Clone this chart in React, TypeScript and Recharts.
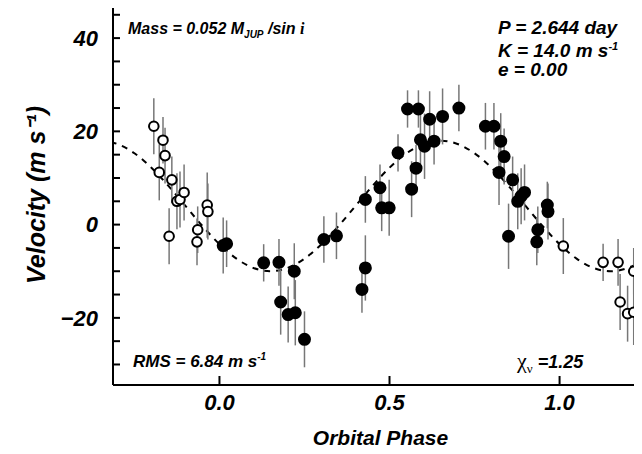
import { ComposedChart, Scatter, Line, XAxis, YAxis, ErrorBar, Label } from 'recharts';

// model curve (K = 14.0, e = 0)
const curvePhase = [-0.32, -0.3, -0.25, -0.2, -0.15, -0.1, -0.05, 0, 0.05, 0.1, 0.15, 0.2, 0.25, 0.3, 0.35, 0.4, 0.45, 0.5, 0.55, 0.6, 0.65, 0.7, 0.75, 0.8, 0.85, 0.9, 0.95, 1.0, 1.05, 1.1, 1.15, 1.2, 1.25, 1.27];
const curveVel = [17.7, 17.3, 15.3, 12.2, 8.3, 4.0, -0.3, -4.2, -7.3, -9.3, -10, -9.3, -7.3, -4.2, -0.3, 4.0, 8.3, 12.2, 15.3, 17.3, 18, 17.3, 15.3, 12.2, 8.3, 4.0, -0.3, -4.2, -7.3, -9.3, -10, -9.3, -7.3, -6.0];

// measured points (phase in [0,1])
const fPhase = [0.011, 0.021, 0.130, 0.175, 0.180, 0.202, 0.223, 0.220, 0.250, 0.307, 0.344, 0.419, 0.429, 0.429, 0.472, 0.477, 0.499, 0.525, 0.553, 0.585, 0.618, 0.656, 0.704, 0.565, 0.578, 0.591, 0.603, 0.631, 0.782, 0.807, 0.827, 0.837, 0.822, 0.862, 0.850, 0.877, 0.887, 0.897, 0.936, 0.933, 0.964, 0.966];
const fVel = [-4.5, -4.1, -8.2, -8.1, -16.6, -19.3, -18.9, -10.0, -24.6, -3.2, -2.4, -13.9, -9.3, 5.4, 7.9, 3.6, 3.6, 15.4, 24.8, 24.8, 22.6, 23.2, 25.0, 7.6, 12.1, 18.2, 16.8, 17.9, 21.1, 21.1, 17.9, 14.6, 11.2, 9.6, -2.5, 5.0, 6.1, 6.9, -1.1, -3.7, 4.2, 2.8];
const fErr = [6, 5, 4, 5, 7, 6, 7, 6, 6, 5, 5, 5, 7, 5, 5, 5, 6, 4, 4, 4, 6, 6, 5, 6, 5, 6, 7, 5, 5, 5, 6, 6, 7, 5, 7, 6, 6, 6, 5, 5, 5, 6];

// wrapped copies (open circles)
const oPhase = [-0.193, -0.166, -0.160, -0.177, -0.140, -0.148, -0.125, -0.116, -0.104, -0.064, -0.066, -0.036, -0.034, 1.011, 1.128, 1.172, 1.218, 1.178, 1.200, 1.218, 1.248];
const oVel = [21.1, 18.1, 14.8, 11.2, 9.6, -2.5, 5.0, 5.4, 6.9, -1.1, -3.7, 4.2, 2.8, -4.6, -8.1, -8.1, -10.0, -16.6, -19.1, -18.8, -24.6];
const oErr = [6, 5, 6, 6, 5, 6, 6, 6, 6, 5, 5, 7, 6, 6, 4, 5, 5, 6, 6, 7, 6];

const curve = curvePhase.map((p, i) => ({ p, v: curveVel[i] }));
const filled = fPhase.map((p, i) => ({ p, v: fVel[i], err: fErr[i] }));
const open = oPhase.map((p, i) => ({ p, v: oVel[i], err: oErr[i] }));

const yTicks = [-30, -25, -20, -15, -10, -5, 0, 5, 10, 15, 20, 25, 30, 35, 40, 45];
const xTicks = [0, 0.5, 1.0];

const font = '"Liberation Sans", Arial, sans-serif';
const tickStyle = { fontFamily: font, fontSize: 22, fontWeight: 'bold', fontStyle: 'italic', fill: '#000' };
const txt: React.CSSProperties = { position: 'absolute', fontFamily: font, fontWeight: 'bold', fontStyle: 'italic', color: '#000', whiteSpace: 'nowrap', lineHeight: 1 };

const dot = (filledDot: boolean) => (props: any) => (
  <circle cx={props.cx} cy={props.cy} r={filledDot ? 5.5 : 4.8} fill={filledDot ? '#000' : '#fff'} stroke="#000" strokeWidth={2} />
);

export default function App() {
  return (
    <div style={{ position: 'relative', width: 642, height: 454, margin: -8, background: '#fff' }}>
      <ComposedChart width={642} height={454} margin={{ top: 5, right: -6, bottom: 0, left: 0 }}>
        <XAxis xAxisId="b" dataKey="p" type="number" domain={[-0.313, 1.26]} ticks={xTicks} allowDataOverflow height={69}
          tickFormatter={v => v.toFixed(1)} tick={tickStyle} tickSize={-9} tickMargin={18} stroke="#000" strokeWidth={2}>
          <Label value="Orbital Phase" position="insideBottom" offset={9} style={{ ...tickStyle, fontSize: 21 }} />
        </XAxis>
        <XAxis xAxisId="t" orientation="top" dataKey="p" type="number" domain={[-0.313, 1.26]} ticks={xTicks} allowDataOverflow
          tick={false} tickSize={-9} height={0} stroke="#000" strokeWidth={2} />
        <YAxis yAxisId="l" type="number" domain={[-34.4, 47.1]} ticks={yTicks} allowDataOverflow width={113}
          tickFormatter={v => (v % 20 === 0 ? (v < 0 ? '\u2212' + Math.abs(v) : String(v)) : '')}
          tick={tickStyle} tickSize={-7} tickMargin={22} stroke="#000" strokeWidth={2}>
          <Label value="Velocity  (m s⁻¹)" angle={-90} position="insideLeft" offset={36} style={{ ...tickStyle, fontSize: 25, textAnchor: 'middle' }} />
        </YAxis>
        <YAxis yAxisId="r" orientation="right" type="number" domain={[-34.4, 47.1]} ticks={yTicks} allowDataOverflow width={0}
          tick={false} tickSize={-7} stroke="#000" strokeWidth={2} />
        <Line xAxisId="b" yAxisId="l" data={curve} dataKey="v" type="monotone" stroke="#000" strokeWidth={2} strokeDasharray="6 6" dot={false} isAnimationActive={false} />
        <Scatter xAxisId="b" yAxisId="l" data={open} dataKey="v" shape={dot(false)} isAnimationActive={false}>
          <ErrorBar dataKey="err" direction="y" width={0} stroke="#777" strokeWidth={1.5} />
        </Scatter>
        <Scatter xAxisId="b" yAxisId="l" data={filled} dataKey="v" shape={dot(true)} isAnimationActive={false}>
          <ErrorBar dataKey="err" direction="y" width={0} stroke="#777" strokeWidth={1.5} />
        </Scatter>
      </ComposedChart>
      <div style={{ ...txt, left: 128, top: 21, fontSize: 16 }}>
        Mass = 0.052 M<sub style={{ fontSize: 10 }}>JUP</sub> /sin <span style={{ fontFamily: 'serif' }}>i</span>
      </div>
      <div style={{ ...txt, left: 498, top: 18, fontSize: 19, lineHeight: '19px' }}>
        P = 2.644 day<br />K = 14.0 m s<sup style={{ fontSize: 11 }}>-1</sup><br />e = 0.00
      </div>
      <div style={{ ...txt, left: 133, top: 352, fontSize: 17 }}>
        RMS = 6.84 m s<sup style={{ fontSize: 10 }}>-1</sup>
      </div>
      <div style={{ ...txt, left: 517, top: 350, fontSize: 18 }}>
        <span style={{ fontStyle: 'normal', fontWeight: 'normal', fontFamily: 'serif', fontSize: 22 }}>χ<sub style={{ fontSize: 13 }}>ν</sub></span> =1.25
      </div>
    </div>
  );
}
